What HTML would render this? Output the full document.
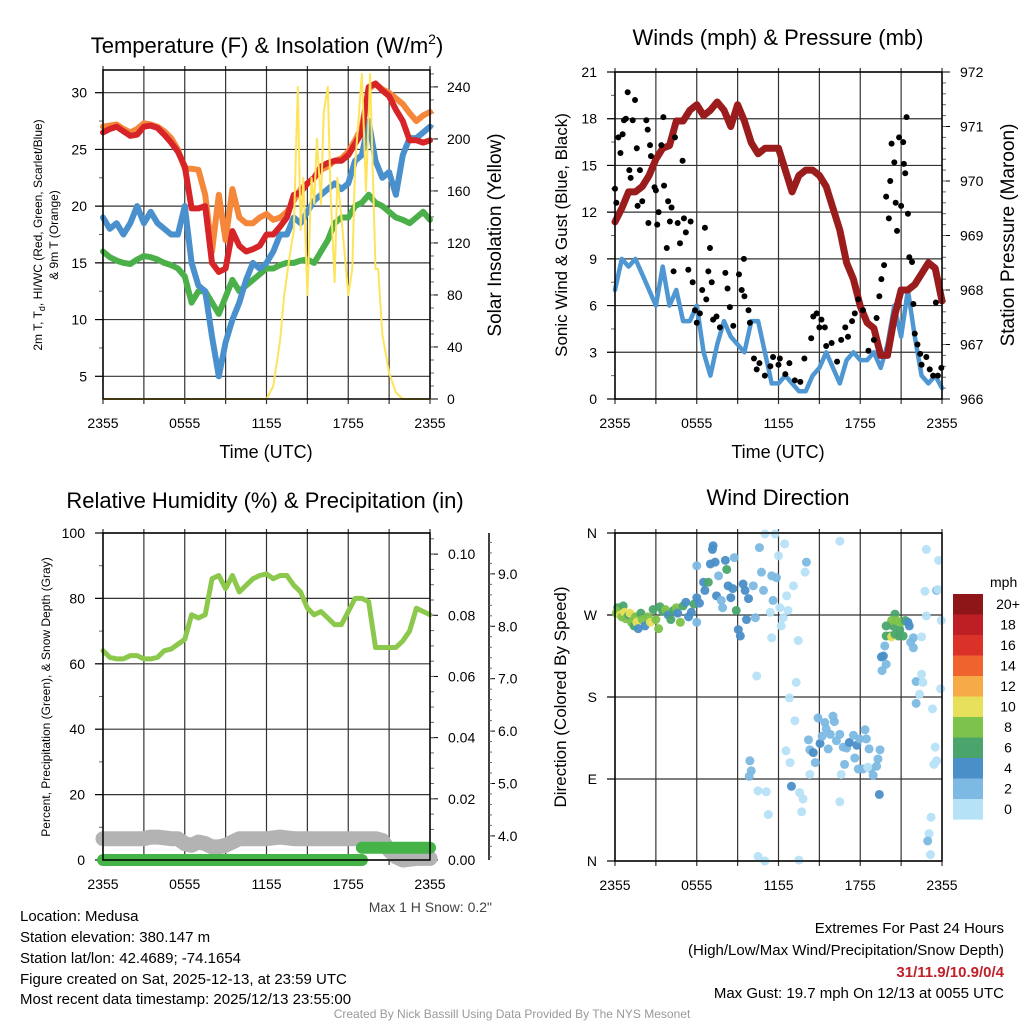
<!DOCTYPE html>
<html><head><meta charset="utf-8">
<style>
html,body{margin:0;padding:0;background:#fff;}
svg{display:block;font-family:"Liberation Sans",sans-serif;}
</style></head>
<body>
<svg id="root" width="1024" height="1024" viewBox="0 0 1024 1024" xmlns="http://www.w3.org/2000/svg">
<rect x="0" y="0" width="1024" height="1024" fill="#fff"/>
<text x="267" y="53" font-size="22" text-anchor="middle">Temperature (F) &amp; Insolation (W/m<tspan font-size="14" dy="-9">2</tspan><tspan dy="9">)</tspan></text>
<text x="778" y="45" font-size="22" text-anchor="middle">Winds (mph) &amp; Pressure (mb)</text>
<text x="265" y="508" font-size="22" text-anchor="middle">Relative Humidity (%) &amp; Precipitation (in)</text>
<text x="778" y="505" font-size="22" text-anchor="middle">Wind Direction</text>
<text x="266" y="458" font-size="18" text-anchor="middle">Time (UTC)</text>
<text x="778" y="458" font-size="18" text-anchor="middle">Time (UTC)</text>
<text transform="translate(42,235) rotate(-90)" font-size="12" text-anchor="middle">2m T, T<tspan font-size="9" dy="3">d</tspan><tspan dy="-3">, HI/WC (Red, Green, Scarlet/Blue)</tspan></text>
<text transform="translate(58,235) rotate(-90)" font-size="12" text-anchor="middle">&amp; 9m T (Orange)</text>
<text transform="translate(501,235) rotate(-90)" font-size="19" text-anchor="middle">Solar Insolation (Yellow)</text>
<text transform="translate(567,235) rotate(-90)" font-size="17" text-anchor="middle">Sonic Wind &amp; Gust (Blue, Black)</text>
<text transform="translate(1014,235) rotate(-90)" font-size="19" text-anchor="middle">Station Pressure (Maroon)</text>
<text transform="translate(50,697) rotate(-90)" font-size="12" text-anchor="middle">Percent, Precipitation (Green), &amp; Snow Depth (Gray)</text>
<text transform="translate(566,697) rotate(-90)" font-size="17" text-anchor="middle">Direction (Colored By Speed)</text>
<text x="492" y="912" font-size="14" fill="#444" text-anchor="end">Max 1 H Snow: 0.2"</text>
<g font-size="15">
<text x="20" y="921">Location: Medusa</text>
<text x="20" y="942">Station elevation: 380.147 m</text>
<text x="20" y="963">Station lat/lon: 42.4689; -74.1654</text>
<text x="20" y="984">Figure created on Sat, 2025-12-13, at 23:59 UTC</text>
<text x="20" y="1004">Most recent data timestamp: 2025/12/13 23:55:00</text>
</g>
<g font-size="15" text-anchor="end">
<text x="1004" y="933">Extremes For Past 24 Hours</text>
<text x="1004" y="955">(High/Low/Max Wind/Precipitation/Snow Depth)</text>
<text x="1004" y="977" fill="#c0202a" font-weight="bold">31/11.9/10.9/0/4</text>
<text x="1004" y="998">Max Gust: 19.7 mph On 12/13 at 0055 UTC</text>
</g>
<text x="512" y="1018" font-size="12" fill="#999" text-anchor="middle">Created By Nick Bassill Using Data Provided By The NYS Mesonet</text>
</svg>
<script>
// ---------- data ----------
const halfHours = [0,0.5,1,1.5,2,2.5,3,3.5,4,4.5,5,5.5,6,6.5,7,7.5,8,8.5,9,9.5,10,10.5,11,11.5,12,12.5,13,13.5,14,14.5,15,15.5,16,16.5,17,17.5,18,18.5,19,19.5,20,20.5,21,21.5,22,22.5,23,23.5,24];
const tempRed = [26.5,26.8,27,26.6,26.2,26.3,27,27.1,26.9,26.3,25.6,24.8,23.5,19.8,19.8,20,15,14.2,14.5,17.8,16.5,16,16.2,16.5,17.5,17.5,18.2,19,21,21.2,22,22.5,23.5,23.8,24,24,24.5,25.5,26.5,30.5,30.8,30.2,29.7,28.5,27.5,25.8,25.8,25.6,25.8];
const tempOrange = [27,27.1,27.2,26.8,26.5,26.8,27.3,27.2,27,26.6,26,25,23.3,23.3,23.2,21,16,21,17,21.5,19,18.5,18.5,19,19.3,18.8,19,19.5,20.5,21.5,22,22.5,23.2,23.5,24,24.2,24.8,25.8,27,30.3,30.8,30.3,30,29.5,29,28.2,27.5,28,28.3];
const tempBlue = [19,18,18.5,17.5,18.5,20,18.5,19.5,18.5,18,17.5,17.5,20,15,13,12.5,8.5,5,8,10,11.5,13.5,15,14.5,15,16,17.5,17.5,19,18.5,19.5,20.5,21,21.5,22,21.5,22,24,24.5,27.5,24,22.5,23,21,24.5,26,26,26.5,27];
const tempGreen = [16,15.5,15.2,15,14.9,15.3,15.6,15.5,15.3,15,14.8,14.5,13.8,11.5,12.5,12.5,11.5,10.5,12,13.5,12.5,13,13.5,14,14.5,14.5,14.8,15,15,15.2,15.3,15,16,17,18.5,19,19,20,20.3,21,20.3,20,19.5,19,18.8,18.5,19,19.5,18.8];
const solarHours = [0,12,12.5,13,13.3,13.7,14,14.3,14.5,14.7,15,15.3,15.5,15.7,16,16.2,16.5,16.7,17,17.2,17.5,18,18.3,18.5,19,19.3,19.6,20,20.2,20.5,21,21.5,22,24];
const solarValues = [0,0,10,45,80,110,130,240,130,170,80,170,150,200,150,220,240,160,90,170,140,80,100,180,250,160,250,100,100,50,20,5,0,0];
const windSpeed = [7,9,8.5,9,8,7,6,8.5,6,7,5,5,6,3,1.5,3.5,5,4,3.5,3,5,5,3,1,1,1.5,1,0.5,0.5,1.5,2,3,2,1,2.5,3,2.5,2.5,3,2,3.5,6,4,7,4,1.5,1,1.5,0.7];
const pressure = [969.25,969.5,969.8,969.8,969.9,970.1,970.4,970.6,970.65,971.1,971.1,971.3,971.4,971.2,971.3,971.45,971.3,971.0,971.4,971.1,970.7,970.5,970.6,970.6,970.6,970.2,969.8,970.1,970.2,970.2,970.1,969.9,969.5,969.1,968.5,968.2,967.7,967.4,967.3,966.8,966.8,967.5,968.0,968.0,968.1,968.3,968.5,968.4,967.8];
const gustHours = [0,0.1,0.25,0.4,0.56,0.66,0.8,0.93,1.05,1.15,1.3,1.47,1.6,1.66,1.83,2.0,2.3,2.4,2.45,2.57,2.64,2.9,3.0,3.1,3.2,3.4,3.55,3.6,3.8,3.9,4.03,4.15,4.3,4.4,4.6,4.77,4.96,5.06,5.2,5.38,5.55,5.7,5.87,6.0,6.23,6.4,6.6,6.7,6.85,6.97,7.1,7.2,7.45,7.7,8.1,8.26,8.43,8.68,9.1,9.3,9.46,9.5,9.8,9.9,10.2,10.4,10.6,11.0,11.4,11.6,12.0,12.1,12.5,12.8,13.2,13.6,13.9,14.4,14.55,14.8,15.0,15.15,15.4,15.5,15.9,16.3,16.6,16.9,17.1,17.4,17.6,17.85,18.2,18.6,19.0,19.2,19.4,19.55,19.75,19.9,20.1,20.2,20.3,20.5,20.6,20.7,20.85,21.0,21.15,21.2,21.3,21.4,21.5,21.6,21.8,21.9,22.0,22.2,22.4,22.5,22.85,23.1,23.35,23.55,23.7,23.95];
const gustValues = [13.5,12.6,16.8,15.8,17.0,17.9,18.0,19.7,14.7,14.2,17.9,19.2,16.1,12.4,14.7,12.7,17.9,17.3,11.3,16.3,15.6,13.6,13.4,11.2,12.0,16.3,18.1,13.7,9.7,12.7,11.4,12.3,8.2,16.8,11.3,10.0,15.3,11.6,10.7,8.3,11.4,7.5,5.7,4.9,5.5,7.0,11.0,6.4,8.2,9.7,7.5,5.1,5.3,4.6,8.1,7.1,5.9,4.7,8.0,7.0,9.0,6.6,5.7,4.9,2.6,1.9,2.3,1.5,2.1,2.7,2.2,2.6,1.6,2.3,1.2,1.1,2.6,3.9,5.3,5.5,4.6,5.1,4.6,3.4,3.6,2.4,3.8,4.6,4.0,5.0,5.5,6.4,5.7,3.1,3.8,5.2,6.6,7.7,8.6,13.0,11.6,14.0,16.4,15.2,12.6,10.8,16.8,12.4,16.5,15.1,14.5,18.1,11.9,9.1,8.8,6.1,4.2,3.5,2.9,2.2,2.7,1.9,1.5,6.2,1.5,2.0];
const rhValues = [64,62,61.5,61.5,62.5,62.5,61.5,61.5,62,64,64.5,66,67.5,75,74,75,86,87,83,87,82,84,86,87,87.5,86,87,87,84,82,77,75,76,74,72,72,76,80,80,79,65,65,65,65,67,70,77,76,75];
const snowHours = [0,1,2,3,3.5,4,5,5.5,6,6.5,7,7.5,8,8.5,9,10,11,12,13,14,15,16,17,18,19,20,20.5,21,21.5,22,23,24];
const snowValues = [6.5,6.5,6.5,6.5,7,7,6.5,6.5,5,4.5,5.5,5,4,4,4.5,6.5,6.5,6.5,7,6.5,6.5,6.5,6.5,6.5,6.5,6.5,6,3,1,0,0.5,0.5];
const precipHours = [0,19,19,24];
const precipValues = [0,0,0.004,0.004];
const dirHours = [0.1,0.2,0.3,0.4,0.5,0.6,0.7,0.8,1.0,1.1,1.2,1.4,1.5,1.6,1.7,1.9,2.0,2.2,2.4,2.6,2.8,3.0,3.2,3.3,3.5,3.7,3.9,4.1,4.3,4.5,4.6,4.8,5.0,5.2,5.4,5.6,5.8,6.0,6.2,6.0,6.0,6.5,6.6,6.85,7.0,7.2,7.15,7.35,7.6,7.45,7.8,7.9,8.1,8.2,8.3,8.5,8.65,8.75,8.9,9.05,9.2,9.4,9.55,9.65,9.8,10.15,10.3,10.4,10.6,10.75,10.9,11.0,11.4,11.5,11.6,11.5,11.75,11.85,12.0,12.1,12.2,12.35,12.45,12.6,12.7,12.8,13.1,13.2,13.3,13.45,13.95,14.05,16.5,9.9,10.0,9.85,10.5,11.1,11.25,10.5,11.0,12.95,13.55,13.8,13.7,12.55,12.85,13.5,16.5,19.4,14.2,14.3,14.55,14.7,14.3,14.9,15.05,15.2,15.4,15.5,15.65,15.8,16.0,16.1,16.25,16.5,16.75,16.85,17.0,17.2,17.5,17.6,17.75,17.85,17.95,18.2,18.35,18.45,18.65,18.8,18.95,19.2,19.3,19.45,16.6,18.55,20.55,20.4,20.2,20.3,20.65,20.9,21.0,21.3,21.5,21.15,20.8,19.9,19.9,20.3,20.55,21.6,21.9,21.7,21.9,22.5,19.8,19.7,19.55,19.9,19.6,22.1,22.6,22.5,22.35,22.1,23.3,23.5,23.4,23.6,23.2,23.05,22.95,23.15,22.85,22.75,22.85,23.6,23.7,23.75,23.95,23.9];
const dirDegrees = [272,278,275,270,268,280,273,266,270,272,262,258,268,262,255,272,265,258,268,262,276,265,255,279,274,276,270,265,275,278,272,262,280,284,268,273,282,289,283,262,324,306,297,306,326,346,342,328,313,291,286,278,330,320,302,289,299,333,275,254,247,304,297,265,288,302,267,203,344,317,297,359,273,313,286,245,359,311,335,278,258,267,348,291,275,179,302,154,196,242,317,328,351,110,99,93,77,76,51,5,0,82,75,68,54,121,108,1,65,73,133,122,119,108,95,157,129,137,152,145,123,139,159,153,132,139,125,106,124,130,138,113,127,101,134,101,144,134,123,101,94,104,112,122,95,103,271,258,247,264,264,254,262,264,262,247,247,258,247,246,249,258,245,240,234,246,236,225,224,216,209,197,196,205,183,173,167,125,106,110,48,30,22,7,342,296,269,297,298,330,264,189];
const dirSpeeds = [8,7,9,10,8,6,11,9,7,10,8,6,9,10,5,6,8,4,9,10,7,8,9,7,6,8,5,6,7,8,5,9,6,4,4,5,7,4,5,3,2,4,4,7,4,4,4,4,2,4,2,2,4,6,4,4,4,2,6,4,4,4,4,4,4,2,2,0,2,2,2,0,0,2,2,0,0,2,0,0,0,0,0,0,0,0,0,0,0,0,0,2,0,2,2,2,0,0,0,0,0,4,0,0,0,0,0,0,0,4,2,2,4,2,0,2,4,2,2,2,2,2,2,2,2,2,2,2,2,4,2,2,4,2,2,2,2,2,2,2,2,2,2,2,0,0,6,6,6,8,8,6,8,6,4,6,6,6,6,10,6,4,2,2,2,0,2,4,4,2,2,2,0,0,0,2,0,0,0,0,0,0,2,0,0,0,0,2,0,0,0,0];
const speedLabels = ["20+","18","16","14","12","10","8","6","4","2","0"];
const speedColors = ["#8e1619","#bd1f24","#da3228","#ee632e","#f6aa48","#e7e05a","#7dc24b","#4aa56c","#4a8fc7","#7cb9e3","#b6e2f7"];
const timeTickLabels = ["2355","0555","1155","1755","2355"];

// ---------- helpers ----------
const NS = "http://www.w3.org/2000/svg";
const root = document.getElementById("root");
function mk(tag, attrs, parent, name) {
  const el = document.createElementNS(NS, tag);
  for (const k in attrs) el.setAttribute(k, attrs[k]);
  
  
  (parent || root).appendChild(el);
  return el;
}
function txt(x, y, s, size, anchor, parent, name) {
  const t = mk("text", {x: x, y: y, "font-size": size, "text-anchor": anchor || "middle"}, parent, name);
  t.textContent = s;
  return t;
}
function linear(d0, d1, r0, r1) { return v => r0 + (v - d0) * (r1 - r0) / (d1 - d0); }
function panel(x0, y0, x1, y1, name) {
  const g = mk("g", {}, root, name);
  const xs = linear(0, 24, x0, x1);
  for (let h = 0; h <= 24; h += 3) {
    mk("line", {x1: xs(h), y1: y0 - 4, x2: xs(h), y2: y1 + 5, stroke: "#333", "stroke-width": 1.2}, g, "v-gridline");
  }
  timeTickLabels.forEach((s, i) => txt(xs(i * 6), y1 + 29, s, 14, "middle", g, "x-tick-label"));
  return {g: g, xs: xs};
}
function yAxis(g, ys, x0, x1, ticks, labels, minor, side, gridOn, labelX, name) {
  ticks.forEach((v, i) => {
    if (gridOn) mk("line", {x1: x0 - 8, y1: ys(v), x2: x1, y2: ys(v), stroke: "#333", "stroke-width": 1.2}, g, "h-gridline");
    const ax = side === "left" ? x0 : x1;
    const d = side === "left" ? -8 : 8;
    mk("line", {x1: ax, y1: ys(v), x2: ax + d, y2: ys(v), stroke: "#000", "stroke-width": 1}, g, name + "-tick");
    txt(labelX, ys(v) + 5, labels[i], 14, side === "left" ? "end" : "start", g, name + "-label");
  });
  minor.forEach(v => {
    const ax = side === "left" ? x0 : x1;
    mk("line", {x1: ax, y1: ys(v), x2: ax + (side === "left" ? -4 : 4), y2: ys(v), stroke: "#666", "stroke-width": 1}, g, name + "-minor-tick");
  });
}
function frame(g, x0, y0, x1, y1) {
  mk("rect", {x: x0, y: y0, width: x1 - x0, height: y1 - y0, fill: "none", stroke: "#000", "stroke-width": 1.5}, g, "plot-frame");
}
function path(g, xsArr, ysArr, xs, ys, color, w, name) {
  let d = "";
  xsArr.forEach((h, i) => { d += (i ? "L" : "M") + xs(h).toFixed(1) + "," + ys(ysArr[i]).toFixed(1); });
  mk("path", {d: d, fill: "none", stroke: color, "stroke-width": w, "stroke-linejoin": "round", "stroke-linecap": "round"}, g, name);
}
function range(a, b, s) { const r = []; for (let v = a; v <= b + 1e-9; v += s) r.push(+v.toFixed(4)); return r; }

// ---------- temperature panel ----------
(function () {
  const x0 = 103, x1 = 430, y0 = 70, y1 = 399;
  const p = panel(x0, y0, x1, y1, "temperature-panel");
  const ys = linear(3, 32, y1, y0);
  const ysr = linear(0, 253, y1, y0);
  yAxis(p.g, ys, x0, x1, [5,10,15,20,25,30], ["5","10","15","20","25","30"], range(7.5, 27.5, 5), "left", true, 87, "temp-y");
  yAxis(p.g, ysr, x0, x1, [0,40,80,120,160,200,240], ["0","40","80","120","160","200","240"], range(10, 250, 10), "right", false, 447, "solar-y");
  path(p.g, halfHours, tempGreen, p.xs, ys, "#4bb04a", 6, "heat-index-line");
  path(p.g, halfHours, tempBlue, p.xs, ys, "#4a90cd", 6, "dewpoint-line");
  path(p.g, halfHours, tempOrange, p.xs, ys, "#f5873a", 6, "temp-9m-line");
  path(p.g, halfHours, tempRed, p.xs, ys, "#d62428", 6, "temp-2m-line");
  path(p.g, solarHours, solarValues, p.xs, ysr, "#fde45a", 2, "solar-line");
  frame(p.g, x0, y0, x1, y1);
})();

// ---------- wind panel ----------
(function () {
  const x0 = 615, x1 = 942, y0 = 72, y1 = 399;
  const p = panel(x0, y0, x1, y1, "wind-panel");
  const ys = linear(0, 21, y1, y0);
  const ysr = linear(966, 972, y1, y0);
  yAxis(p.g, ys, x0, x1, [0,3,6,9,12,15,18,21], ["0","3","6","9","12","15","18","21"], range(1.5, 19.5, 3), "left", true, 597, "wind-y");
  yAxis(p.g, ysr, x0, x1, [966,967,968,969,970,971,972], ["966","967","968","969","970","971","972"], range(966.2, 971.8, 0.2), "right", false, 960, "pressure-y");
  path(p.g, halfHours, windSpeed, p.xs, ys, "#4f97d2", 4.5, "wind-speed-line");
  path(p.g, halfHours, pressure, p.xs, ysr, "#9b1c1c", 7, "pressure-line");
  gustHours.forEach((h, i) => {
    mk("circle", {cx: p.xs(h), cy: ys(gustValues[i]), r: 3, fill: "#000"}, p.g, "gust-point");
  });
  frame(p.g, x0, y0, x1, y1);
})();

// ---------- RH panel ----------
(function () {
  const x0 = 103, x1 = 430, y0 = 533, y1 = 860;
  const p = panel(x0, y0, x1, y1, "rh-panel");
  const ys = linear(0, 100, y1, y0);
  const ysp = linear(0, 0.1069, y1, y0);
  const yss = linear(3.54, 9.78, y1, y0);
  yAxis(p.g, ys, x0, x1, [0,20,40,60,80,100], ["0","20","40","60","80","100"], range(10, 90, 20), "left", true, 85, "rh-y");
  yAxis(p.g, ysp, x0, x1, [0,0.02,0.04,0.06,0.08,0.1], ["0.00","0.02","0.04","0.06","0.08","0.10"], range(0.005, 0.105, 0.005), "right", false, 448, "precip-y");
  mk("line", {x1: 489, y1: y0, x2: 489, y2: y1, stroke: "#000", "stroke-width": 1.5}, p.g, "snow-axis-line");
  [4,5,6,7,8,9].forEach(v => {
    mk("line", {x1: 489, y1: yss(v), x2: 495, y2: yss(v), stroke: "#000", "stroke-width": 1}, p.g, "snow-y-tick");
    txt(498, yss(v) + 5, v.toFixed(1), 14, "start", p.g, "snow-y-label");
  });
  range(3.6, 9.6, 0.2).forEach(v => {
    mk("line", {x1: 489, y1: yss(v), x2: 492, y2: yss(v), stroke: "#666", "stroke-width": 1}, p.g, "snow-y-minor-tick");
  });
  path(p.g, snowHours, snowValues, p.xs, ys, "#b3b3b3", 15, "snow-depth-line");
  path(p.g, precipHours.slice(0, 2), precipValues.slice(0, 2), p.xs, ysp, "#45b348", 12, "precip-line");
  path(p.g, precipHours.slice(2), precipValues.slice(2), p.xs, ysp, "#45b348", 12, "precip-line-late");
  path(p.g, halfHours, rhValues, p.xs, ys, "#8cc84b", 5, "rh-line");
  frame(p.g, x0, y0, x1, y1);
})();

// ---------- direction panel ----------
(function () {
  const x0 = 615, x1 = 942, y0 = 533, y1 = 861;
  const p = panel(x0, y0, x1, y1, "direction-panel");
  const ys = linear(0, 360, y1, y0);
  yAxis(p.g, ys, x0, x1, [0,90,180,270,360], ["N","E","S","W","N"], [], "left", true, 597, "direction-y");
  dirHours.forEach((h, i) => {
    const bin = Math.min(10, Math.floor(dirSpeeds[i] / 2));
    mk("circle", {cx: p.xs(h), cy: ys(dirDegrees[i]), r: 4.5, fill: speedColors[10 - bin], "fill-opacity": 0.95}, p.g, "direction-point");
  });
  frame(p.g, x0, y0, x1, y1);
  const lg = mk("g", {}, root, "speed-colorbar");
  txt(990, 587, "mph", 14, "start", lg, "colorbar-title");
  speedLabels.forEach((s, i) => {
    mk("rect", {x: 953, y: 594 + i * 20.5, width: 30, height: 20.6, fill: speedColors[i]}, lg, "colorbar-box");
    txt(1008, 609 + i * 20.5, s, 14, "middle", lg, "colorbar-label");
  });
})();
</script>
</body></html>
